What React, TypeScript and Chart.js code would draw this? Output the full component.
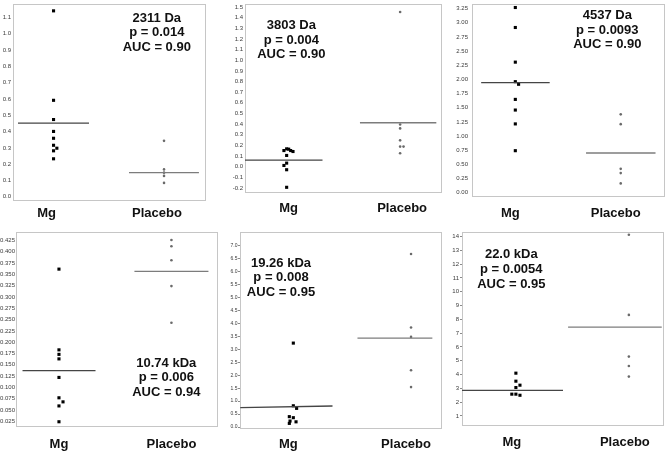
import React, { useEffect, useRef } from "react";
import { Chart, registerables } from "chart.js";
Chart.register(...registerables);

const CATEGORIES = ["Mg", "Placebo"];

// Panel 1 — 2311 Da
const P1_MG = [1.141, 0.592, 0.474, 0.401, 0.359, 0.316, 0.298, 0.282, 0.233];
const P1_PLACEBO = [0.343, 0.168, 0.148, 0.128, 0.085];
const P1_MEANS = [0.452, 0.148];
const P1_TICKS = [0.0, 0.1, 0.2, 0.3, 0.4, 0.5, 0.6, 0.7, 0.8, 0.9, 1.0, 1.1];
const P1_TEXT = ["2311 Da", "p = 0.014", "AUC = 0.90"];

// Panel 2 — 3803 Da
const P2_MG = [0.168, 0.165, 0.152, 0.152, 0.143, 0.106, 0.034, 0.012, -0.028, -0.193];
const P2_PLACEBO = [1.453, 0.397, 0.36, 0.248, 0.189, 0.189, 0.127];
const P2_MEANS = [0.062, 0.413];
const P2_TICKS = [-0.2, -0.1, 0.0, 0.1, 0.2, 0.3, 0.4, 0.5, 0.6, 0.7, 0.8, 0.9, 1.0, 1.1, 1.2, 1.3, 1.4, 1.5];
const P2_TEXT = ["3803 Da", "p = 0.004", "AUC = 0.90"];

// Panel 3 — 4537 Da
const P3_MG = [3.27, 2.917, 2.305, 1.96, 1.914, 1.647, 1.459, 1.214, 0.741];
const P3_PLACEBO = [1.383, 1.21, 0.42, 0.345, 0.163];
const P3_MEANS = [1.943, 0.7];
const P3_TICKS = [0.0, 0.25, 0.5, 0.75, 1.0, 1.25, 1.5, 1.75, 2.0, 2.25, 2.5, 2.75, 3.0, 3.25];
const P3_TEXT = ["4537 Da", "p = 0.0093", "AUC = 0.90"];

// Panel 4 — 10.74 kDa
const P4_MG = [0.3615, 0.183, 0.173, 0.163, 0.122, 0.077, 0.068, 0.059, 0.024];
const P4_PLACEBO = [0.426, 0.412, 0.381, 0.324, 0.243];
const P4_MEANS = [0.137, 0.3565];
const P4_TICKS = [0.025, 0.05, 0.075, 0.1, 0.125, 0.15, 0.175, 0.2, 0.225, 0.25, 0.275, 0.3, 0.325, 0.35, 0.375, 0.4, 0.425];
const P4_TEXT = ["10.74 kDa", "p = 0.006", "AUC = 0.94"];

// Panel 5 — 19.26 kDa
const P5_MG = [3.24, 0.82, 0.72, 0.4, 0.36, 0.23, 0.2, 0.14];
const P5_PLACEBO = [6.68, 3.845, 3.48, 2.19, 1.54];
const P5_MEANS = [0.746, 3.43];
const P5_TICKS = [0.0, 0.5, 1.0, 1.5, 2.0, 2.5, 3.0, 3.5, 4.0, 4.5, 5.0, 5.5, 6.0, 6.5, 7.0];
const P5_TEXT = ["19.26 kDa", "p = 0.008", "AUC = 0.95"];

// Panel 6 — 22.0 kDa
const P6_MG = [4.1, 3.52, 3.23, 3.06, 2.58, 2.58, 2.5];
const P6_PLACEBO = [14.12, 8.32, 5.3, 4.62, 3.85];
const P6_MEANS = [2.86, 7.43];
const P6_TICKS = [1, 2, 3, 4, 5, 6, 7, 8, 9, 10, 11, 12, 13, 14];
const P6_TEXT = ["22.0 kDa", "p = 0.0054", "AUC = 0.95"];

const FONT = "'Liberation Sans', Arial, Helvetica, sans-serif";

type Panel = {
  mg: number[]; pl: number[]; means: number[]; ticks: number[]; text: string[];
  decimals: number;
  canvas: number[]; frame: number[];
  yMin: number; yMax: number; xMin: number; xMax: number;
  mgLine: number[]; plLine: number[]; mgTilt: number;
  mgJitter: number[]; plJitter: number[];
  tickFont: number; tickPad: number; tickMarks: boolean;
  catPad: number; catOffset: number;
  textFx: number; textTop: number;
};

const PANELS: Panel[] = [
  {
    mg: P1_MG, pl: P1_PLACEBO, means: P1_MEANS, ticks: P1_TICKS, text: P1_TEXT, decimals: 1,
    canvas: [0, 0, 222, 228], frame: [13, 2, 206, 201],
    yMin: -0.026, yMax: 1.183, xMin: 0.633, xMax: 2.38,
    mgLine: [0.678, 1.321], plLine: [1.683, 2.316], mgTilt: 0,
    mgJitter: [0, 0, 0, 0, 0, 0, 0.03, 0, 0], plJitter: [0, 0, 0, 0, 0],
    tickFont: 6, tickPad: 2, tickMarks: false, catPad: 5, catOffset: -7,
    textFx: 0.745, textTop: 14,
  },
  {
    mg: P2_MG, pl: P2_PLACEBO, means: P2_MEANS, ticks: P2_TICKS, text: P2_TEXT, decimals: 1,
    canvas: [224, 0, 222, 228], frame: [245, 2, 442, 193],
    yMin: -0.2465, yMax: 1.528, xMin: 0.633, xMax: 2.369,
    mgLine: [0.633, 1.316], plLine: [1.646, 2.319], mgTilt: 0,
    mgJitter: [0, 0.018, -0.024, 0.035, 0.056, 0, 0, -0.024, 0, 0], plJitter: [0, 0, 0, 0, 0, 0.03, 0],
    tickFont: 6, tickPad: 2, tickMarks: false, catPad: 8, catOffset: 2,
    textFx: 0.235, textTop: 21.3,
  },
  {
    mg: P3_MG, pl: P3_PLACEBO, means: P3_MEANS, ticks: P3_TICKS, text: P3_TEXT, decimals: 2,
    canvas: [446, 0, 223, 228], frame: [472, 2, 667, 197],
    yMin: -0.077, yMax: 3.332, xMin: 0.589, xMax: 2.42,
    mgLine: [0.676, 1.326], plLine: [1.671, 2.33], mgTilt: 0,
    mgJitter: [0, 0, 0, 0, 0.031, 0, 0, 0, 0], plJitter: [0, 0, 0, 0, 0],
    tickFont: 6, tickPad: 4, tickMarks: false, catPad: 9, catOffset: -5,
    textFx: 0.701, textTop: 11.3,
  },
  {
    mg: P4_MG, pl: P4_PLACEBO, means: P4_MEANS, ticks: P4_TICKS, text: P4_TEXT, decimals: 3,
    canvas: [0, 228, 222, 224], frame: [16, 232, 219, 427],
    yMin: 0.0124, yMax: 0.4436, xMin: 0.618, xMax: 2.414,
    mgLine: [0.676, 1.325], plLine: [1.671, 2.329], mgTilt: 0,
    mgJitter: [0, 0, 0, 0, 0, 0, 0.036, 0, 0], plJitter: [0, 0, 0, 0, 0],
    tickFont: 6, tickPad: 1, tickMarks: false, catPad: 10, catOffset: 0,
    textFx: 0.744, textTop: 131,
  },
  {
    mg: P5_MG, pl: P5_PLACEBO, means: P5_MEANS, ticks: P5_TICKS, text: P5_TEXT, decimals: 1,
    canvas: [222, 228, 224, 224], frame: [240, 232, 443, 429],
    yMin: -0.077, yMax: 7.53, xMin: 0.547, xMax: 2.263,
    mgLine: [0.549, 1.333], plLine: [1.545, 2.181], mgTilt: 0.066,
    mgJitter: [0, 0, 0.028, -0.034, 0, -0.028, 0.023, -0.034], plJitter: [0, 0, 0, 0, 0],
    tickFont: 5, tickPad: 0.5, tickMarks: true, catPad: 8, catOffset: -5,
    textFx: 0.203, textTop: 31,
  },
  {
    mg: P6_MG, pl: P6_PLACEBO, means: P6_MEANS, ticks: P6_TICKS, text: P6_TEXT, decimals: 0,
    canvas: [446, 228, 223, 224], frame: [462, 232, 664, 426],
    yMin: 0.275, yMax: 14.32, xMin: 0.523, xMax: 2.311,
    mgLine: [0.523, 1.417], plLine: [1.462, 2.291], mgTilt: 0,
    mgJitter: [0, 0, 0.036, 0, -0.036, 0, 0.036], plJitter: [0, 0, 0, 0, 0],
    tickFont: 6, tickPad: 1, tickMarks: true, catPad: 9, catOffset: -4,
    textFx: 0.244, textTop: 22.7,
  },
];

function PanelChart({ cfg }: { cfg: Panel }) {
  const ref = useRef<HTMLCanvasElement>(null);
  const [cx, cy, cw, ch] = cfg.canvas;
  useEffect(() => {
    const [fl, ft, fr, fb] = cfg.frame;
    const framePlugin = {
      id: "frame",
      beforeDatasetsDraw(chart: any) {
        const a = chart.chartArea;
        const c = chart.ctx;
        c.save();
        c.strokeStyle = "#c6c6c6";
        c.lineWidth = 1;
        c.strokeRect(Math.round(a.left) + 0.5, Math.round(a.top) + 0.5, Math.round(a.right - a.left) - 1, Math.round(a.bottom - a.top) - 1);
        c.restore();
      },
    };
    const textPlugin = {
      id: "annot",
      afterDatasetsDraw(chart: any) {
        const a = chart.chartArea;
        const c = chart.ctx;
        c.save();
        c.fillStyle = "#111";
        c.font = `bold 13px ${FONT}`;
        c.textAlign = "center";
        c.textBaseline = "middle";
        const x = a.left + cfg.textFx * (a.right - a.left);
        cfg.text.forEach((t, i) => c.fillText(t, x, a.top + cfg.textTop + i * 14.7));
        c.restore();
      },
    };
    const chart = new Chart(ref.current!, {
      type: "scatter",
      data: {
        datasets: [
          {
            data: cfg.mgLine.map((x, i) => ({ x, y: cfg.means[0] + i * cfg.mgTilt })),
            showLine: true, pointRadius: 0, borderColor: "#454545", borderWidth: 1.3,
          },
          {
            data: cfg.plLine.map((x) => ({ x, y: cfg.means[1] })),
            showLine: true, pointRadius: 0, borderColor: "#7c7c7c", borderWidth: 1.3,
          },
          {
            data: cfg.mg.map((v, i) => ({ x: 1 + cfg.mgJitter[i], y: v })),
            pointStyle: "rect", pointRadius: 2.2, backgroundColor: "#000", borderWidth: 0,
          },
          {
            data: cfg.pl.map((v, i) => ({ x: 2 + cfg.plJitter[i], y: v })),
            pointStyle: "circle", pointRadius: 1.3, backgroundColor: "#6a6a6a", borderWidth: 0,
          },
        ],
      } as any,
      options: {
        animation: false,
        responsive: false,
        maintainAspectRatio: false,
        events: [],
        layout: { padding: { left: 0, top: ft - cy, right: cx + cw - fr, bottom: 0 } },
        plugins: { legend: { display: false }, tooltip: { enabled: false } },
        scales: {
          x: {
            type: "linear",
            min: cfg.xMin,
            max: cfg.xMax,
            grid: { display: false, drawTicks: false, tickLength: 0 },
            border: { display: false },
            afterBuildTicks: (s: any) => { s.ticks = [{ value: 1 }, { value: 2 }]; },
            afterFit: (s: any) => { s.height = cy + ch - fb; s.paddingLeft = 0; s.paddingRight = 0; },
            ticks: {
              autoSkip: false, maxRotation: 0, minRotation: 0,
              padding: cfg.catPad, labelOffset: cfg.catOffset, color: "#111",
              font: { family: FONT, size: 13, weight: "bold" },
              callback: (v: any) => CATEGORIES[Math.round(v) - 1] ?? "",
            },
          },
          y: {
            type: "linear",
            min: cfg.yMin,
            max: cfg.yMax,
            grid: cfg.tickMarks
              ? { display: true, drawOnChartArea: false, drawTicks: true, tickLength: 2, color: "#8a8a8a" }
              : { display: false, drawTicks: false, tickLength: 0 },
            border: { display: false },
            afterBuildTicks: (s: any) => { s.ticks = cfg.ticks.map((value) => ({ value })); },
            afterFit: (s: any) => { s.width = fl - cx; s.paddingTop = 0; s.paddingBottom = 0; },
            ticks: {
              autoSkip: false, padding: cfg.tickPad, color: "#3a3a3a",
              font: { family: FONT, size: cfg.tickFont },
              callback: (v: any) => Number(v).toFixed(cfg.decimals),
            },
          },
        },
      } as any,
      plugins: [framePlugin, textPlugin],
    });
    return () => chart.destroy();
  }, []);
  return (
    <canvas
      ref={ref}
      width={cw}
      height={ch}
      style={{ position: "absolute", left: cx, top: cy, width: cw, height: ch }}
    />
  );
}

export default function App() {
  return (
    <div style={{ position: "fixed", left: 0, top: 0, width: 669, height: 452, background: "#fff", overflow: "hidden" }}>
      {PANELS.map((p, i) => (
        <PanelChart key={i} cfg={p} />
      ))}
    </div>
  );
}
